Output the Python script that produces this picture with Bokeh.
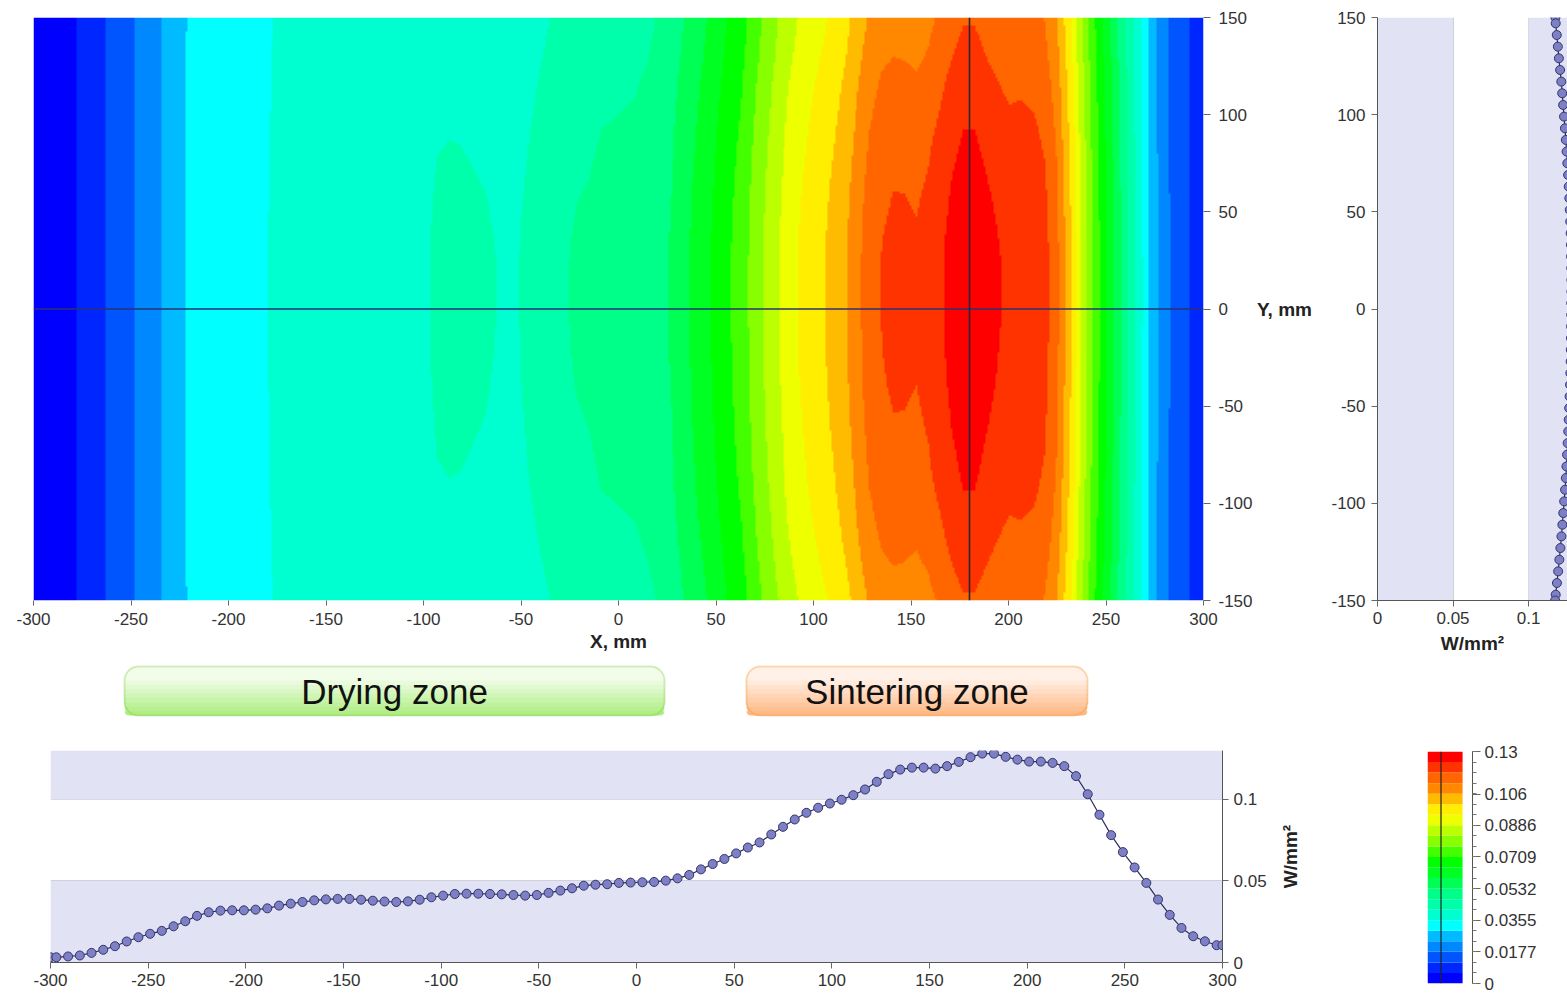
import numpy as np
from math import pi
from bokeh.plotting import figure
from bokeh.layouts import column, row
from bokeh.core.properties import value
from bokeh.models import (Range1d, LinearColorMapper, FixedTicker, CustomJSTickFormatter,
                          BoxAnnotation, Label, Span)
from bokeh.embed import file_html
from bokeh.resources import INLINE

# ---------------- data ----------------
x_ticks = [-300, -250, -200, -150, -100, -50, 0, 50, 100, 150, 200, 250, 300]
y_ticks = [-150, -100, -50, 0, 50, 100, 150]
w_ticks = [0, 0.05, 0.1]
cbar_ticks = [0, 0.0177, 0.0355, 0.0532, 0.0709, 0.0886, 0.106, 0.13]

# horizontal section (y = 0)
section_y = 0
profile_x = [-300] + list(range(-297, 298, 6)) + [300]
profile_w = [
    0.0032,
    0.0032, 0.0037, 0.0043, 0.0059, 0.0078, 0.0100, 0.0129, 0.0155, 0.0176, 0.0194,
    0.0222, 0.0253, 0.0286, 0.0308, 0.0318, 0.0320, 0.0320, 0.0324, 0.0332, 0.0349,
    0.0361, 0.0371, 0.0381, 0.0387, 0.0390, 0.0390, 0.0385, 0.0379, 0.0374, 0.0371,
    0.0375, 0.0385, 0.0400, 0.0410, 0.0420, 0.0422, 0.0422, 0.0420, 0.0418, 0.0414,
    0.0410, 0.0414, 0.0427, 0.0441, 0.0455, 0.0471, 0.0477, 0.0480, 0.0488, 0.0490,
    0.0492, 0.0494, 0.0502, 0.0516, 0.0537, 0.0571, 0.0604, 0.0635, 0.0669, 0.0705,
    0.0736, 0.0785, 0.0832, 0.0877, 0.0918, 0.0949, 0.0975, 0.0998, 0.1026, 0.1061,
    0.1108, 0.1155, 0.1183, 0.1195, 0.1195, 0.1189, 0.1204, 0.1230, 0.1259, 0.1281,
    0.1281, 0.1261, 0.1244, 0.1232, 0.1232, 0.1224, 0.1204, 0.1143, 0.1032, 0.0906,
    0.0781, 0.0677, 0.0583, 0.0488, 0.0386, 0.0292, 0.0212, 0.0161, 0.0130, 0.0106,
    0.0106,
]

# vertical section (x = 180)
section_x = 180
vprofile_y = [150] + list(range(147, -148, -6)) + [-150]
vprofile_w = [
    0.1178, 0.1180, 0.1187, 0.1194, 0.1201, 0.1209, 0.1217, 0.1223, 0.1229, 0.1235,
    0.1241, 0.1247, 0.1252, 0.1257, 0.1262, 0.1266, 0.1270, 0.1273, 0.1276, 0.1279,
    0.1281, 0.1282, 0.1283, 0.1284, 0.1284, 0.1283,
    0.1283, 0.1282, 0.1281, 0.1280, 0.1279, 0.1277, 0.1275, 0.1272, 0.1269, 0.1266,
    0.1263, 0.1259, 0.1255, 0.1251, 0.1247, 0.1242, 0.1236, 0.1230, 0.1224, 0.1218,
    0.1211, 0.1204, 0.1196, 0.1188, 0.1180, 0.1176,
]

# ratio of the value at the long edges (y = +-150) to the value on y = 0
edge_x = [-300, -250, -200, -150, -100, -50, 0, 50, 100, 150, 200, 250, 300]
edge_ratio = [1.0, 1.0, 0.99, 0.98, 0.95, 0.92, 0.92, 0.93, 0.94, 0.92, 0.92, 0.95, 0.98]

band_colors = [
    "#0000ff", "#0026ff", "#0055ff", "#0088ff", "#00bbff", "#00ffff",
    "#00ffd0", "#00ffaa", "#00ff88", "#00ff55", "#00ff22", "#00ff00",
    "#44ff00", "#88ff00", "#bbff00", "#eeff00", "#ffee00", "#ffbb00",
    "#ff8800", "#ff6600", "#ff3300", "#ff0000",
]
w_low, w_high = 0.0, 0.13
band_edges = list(np.linspace(w_low, w_high, len(band_colors) + 1))

zone_names = ["Drying zone", "Sintering zone"]
zone_start = [-253.3, 65.6]
zone_end = [23.6, 240.5]
zone_top_color = ["#f1fde9", "#fff1e7"]
zone_bottom_color = ["#b0ee84", "#ffb986"]
zone_line = ["#78c43a", "#f08a1a"]

assert len(profile_x) == len(profile_w)
assert len(vprofile_y) == len(vprofile_w)

# ---------------- styling ----------------
FONT = "Liberation Sans"
LAV = "#e1e3f4"
GRID = "#cfd0da"
DOT_FILL = "#7d80c4"
DOT_LINE = "#34346a"
CURVE = "#2c2c5c"
fmt = CustomJSTickFormatter(code="return (Math.round(tick*10000)/10000).toString();")


def style_axis(ax, tick_out=6, standoff=6):
    ax.formatter = fmt
    ax.major_label_text_font = FONT
    ax.major_label_text_font_size = "17px"
    ax.major_label_text_color = "#333333"
    ax.major_label_standoff = standoff
    ax.axis_label_text_font = FONT
    ax.axis_label_text_font_size = "19px"
    ax.axis_label_text_font_style = "bold"
    ax.axis_label_text_color = "#222222"
    ax.major_tick_in = 0
    ax.major_tick_out = tick_out
    ax.major_tick_line_color = "#666666"
    ax.minor_tick_line_color = None
    ax.axis_line_color = "#555555"


def base_fig(**kw):
    f = figure(output_backend="svg", toolbar_location=None, **kw)
    f.outline_line_color = None
    f.xgrid.visible = False
    f.ygrid.visible = False
    f.background_fill_color = "white"
    f.border_fill_color = "white"
    return f


def hex_mix(c1, c2, t):
    a = [int(c1[i:i + 2], 16) for i in (1, 3, 5)]
    b = [int(c2[i:i + 2], 16) for i in (1, 3, 5)]
    return "#" + "".join("%02x" % int(round(a[k] + (b[k] - a[k]) * t)) for k in range(3))


# ---------------- 2-D field ----------------
gx = np.linspace(-300, 300, 601)
gy = np.linspace(-150, 150, 301)
P = np.interp(gx, profile_x, profile_w)
vy = np.array(vprofile_y[::-1], dtype=float)
vw = np.array(vprofile_w[::-1], dtype=float)
Q = np.interp(gy, vy, vw)
q0 = np.interp(section_y, vy, vw)
qe = 0.5 * (vprofile_w[0] + vprofile_w[-1])
s = np.clip((q0 - Q) / (q0 - qe), 0, None)
R = np.interp(gx, edge_x, edge_ratio)
F = P[None, :] * (1.0 - (1.0 - R[None, :]) * s[:, None])

mapper = LinearColorMapper(palette=band_colors, low=w_low, high=w_high)

# ---------------- top row ----------------
TOP_H = 660
main = base_fig(width=1255, height=TOP_H, x_range=Range1d(-300, 300), y_range=Range1d(-150, 150),
                min_border_left=33, min_border_right=52, min_border_top=15, min_border_bottom=60,
                y_axis_location="right")
main.image(image=[F.astype(np.float32)], x=-300, y=-150, dw=600, dh=300, color_mapper=mapper)
main.add_layout(Span(location=section_y, dimension="width", line_color="#2a3272", line_width=1.3))
main.add_layout(Span(location=section_x, dimension="height", line_color="#262636", line_width=1.6))
main.xaxis.ticker = FixedTicker(ticks=x_ticks)
main.yaxis.ticker = FixedTicker(ticks=y_ticks)
style_axis(main.xaxis[0], tick_out=5, standoff=7)
style_axis(main.yaxis[0], tick_out=7, standoff=8)
main.xaxis.axis_label = "X, mm"
main.xaxis.axis_label_standoff = 3
main.xaxis.axis_line_color = None
main.yaxis.axis_line_color = None

ylab = base_fig(width=63, height=TOP_H, x_range=Range1d(0, 1), y_range=main.y_range,
                min_border_left=0, min_border_right=0, min_border_top=15, min_border_bottom=60,
                x_axis_location=None, y_axis_location=None)
ylab.text(x=[0.46], y=[section_y], text=["Y, mm"], text_align="center", text_baseline="middle",
          text_font=value(FONT), text_font_size=value("19px"), text_font_style="bold",
          text_color="#222222")

right = base_fig(width=249, height=TOP_H, x_range=Range1d(0, 0.1258), y_range=Range1d(-150, 150),
                 min_border_left=59, min_border_right=0, min_border_top=17, min_border_bottom=60)
right.add_layout(BoxAnnotation(left=0, right=0.05, fill_color=LAV, fill_alpha=1, line_color=None, level="underlay"))
right.add_layout(BoxAnnotation(left=0.1, fill_color=LAV, fill_alpha=1, line_color=None, level="underlay"))
right.xgrid.visible = True
right.xgrid.ticker = FixedTicker(ticks=w_ticks[1:])
right.xgrid.grid_line_color = GRID
right.line(vprofile_w, vprofile_y, line_color=CURVE, line_width=1.2)
right.scatter(vprofile_w, vprofile_y, size=9, fill_color=DOT_FILL, line_color=DOT_LINE, line_width=1)
right.xaxis.ticker = FixedTicker(ticks=w_ticks)
right.yaxis.ticker = FixedTicker(ticks=y_ticks)
style_axis(right.xaxis[0], tick_out=6, standoff=5)
style_axis(right.yaxis[0], tick_out=6, standoff=6)
right.xaxis.axis_label = "W/mm\u00b2"
right.xaxis.axis_label_standoff = 6

# ---------------- zones ----------------
zones = base_fig(width=1255, height=80, x_range=main.x_range, y_range=Range1d(80, 0),
                 min_border_left=33, min_border_right=52, min_border_top=0, min_border_bottom=0,
                 x_axis_location=None, y_axis_location=None)
zones.background_fill_color = None
BOX_T, BOX_B, RAD = 6, 55, 14
for name, a, b, c_top, c_bot, lc in zip(zone_names, zone_start, zone_end,
                                         zone_top_color, zone_bottom_color, zone_line):
    zones.add_layout(BoxAnnotation(left=a, right=b, top=BOX_T, bottom=BOX_B, fill_color=c_top,
                                   fill_alpha=1, line_color=None, border_radius=RAD))
    n = 8
    start = BOX_T + RAD
    for k in range(n):
        t = (k + 1) / n
        ytop = start + (BOX_B - start) * k / n
        zones.add_layout(BoxAnnotation(left=a, right=b, top=ytop, bottom=BOX_B,
                                       fill_color=hex_mix(c_top, c_bot, t), fill_alpha=1,
                                       line_color=None, border_radius=(0, 0, RAD, RAD)))
    zones.add_layout(BoxAnnotation(left=a, right=b, top=BOX_T, bottom=BOX_B, fill_alpha=0,
                                   line_color=lc, line_width=2, border_radius=RAD))
    zones.add_layout(Label(x=(a + b) / 2, y=31, text=name, text_align="center", text_baseline="middle",
                           text_font=FONT, text_font_size="35px", text_color="#111111"))

# ---------------- bottom row ----------------
BOT_H = 257
bottom = base_fig(width=1275, height=BOT_H, x_range=Range1d(-300, 300), y_range=Range1d(0, 0.13),
                  min_border_left=50, min_border_right=53, min_border_top=10, min_border_bottom=35,
                  y_axis_location="right")
bottom.add_layout(BoxAnnotation(bottom=0, top=0.05, fill_color=LAV, fill_alpha=1, line_color=None, level="underlay"))
bottom.add_layout(BoxAnnotation(bottom=0.1, fill_color=LAV, fill_alpha=1, line_color=None, level="underlay"))
bottom.ygrid.visible = True
bottom.ygrid.ticker = FixedTicker(ticks=w_ticks[1:])
bottom.ygrid.grid_line_color = GRID
bottom.line(profile_x, profile_w, line_color=CURVE, line_width=1.2)
bottom.scatter(profile_x, profile_w, size=9, fill_color=DOT_FILL, line_color=DOT_LINE, line_width=1)
bottom.xaxis.ticker = FixedTicker(ticks=x_ticks)
bottom.yaxis.ticker = FixedTicker(ticks=w_ticks)
style_axis(bottom.xaxis[0], tick_out=6, standoff=5)
style_axis(bottom.yaxis[0], tick_out=6, standoff=5)

wlab = base_fig(width=30, height=BOT_H, x_range=Range1d(0, 1), y_range=bottom.y_range,
                min_border_left=0, min_border_right=0, min_border_top=10, min_border_bottom=35,
                x_axis_location=None, y_axis_location=None)
wlab.text(x=[0.5], y=[0.065], text=["W/mm\u00b2"], angle=pi / 2, text_align="center",
          text_baseline="middle", text_font=value(FONT), text_font_size=value("19px"),
          text_font_style="bold", text_color="#222222")

cb = base_fig(width=262, height=BOT_H, x_range=Range1d(0, 1), y_range=Range1d(w_low, w_high),
              min_border_left=122, min_border_right=95, min_border_top=11, min_border_bottom=14,
              x_axis_location=None, y_axis_location="right")
cb.quad(left=0, right=0.78, bottom=band_edges[:-1], top=band_edges[1:], fill_color=band_colors,
        line_color=None)
cb.add_layout(Span(location=0.3, dimension="height", line_color="#222222", line_width=1.2))
cb.yaxis.ticker = FixedTicker(ticks=cbar_ticks, minor_ticks=band_edges)
style_axis(cb.yaxis[0], tick_out=8, standoff=4)
cb.yaxis.minor_tick_line_color = "#777777"
cb.yaxis.minor_tick_out = 4
cb.yaxis.minor_tick_in = 0

layout = column(row(main, ylab, right), zones, row(bottom, wlab, column(cb)))
open("out.html", "w").write(file_html(layout, INLINE))
